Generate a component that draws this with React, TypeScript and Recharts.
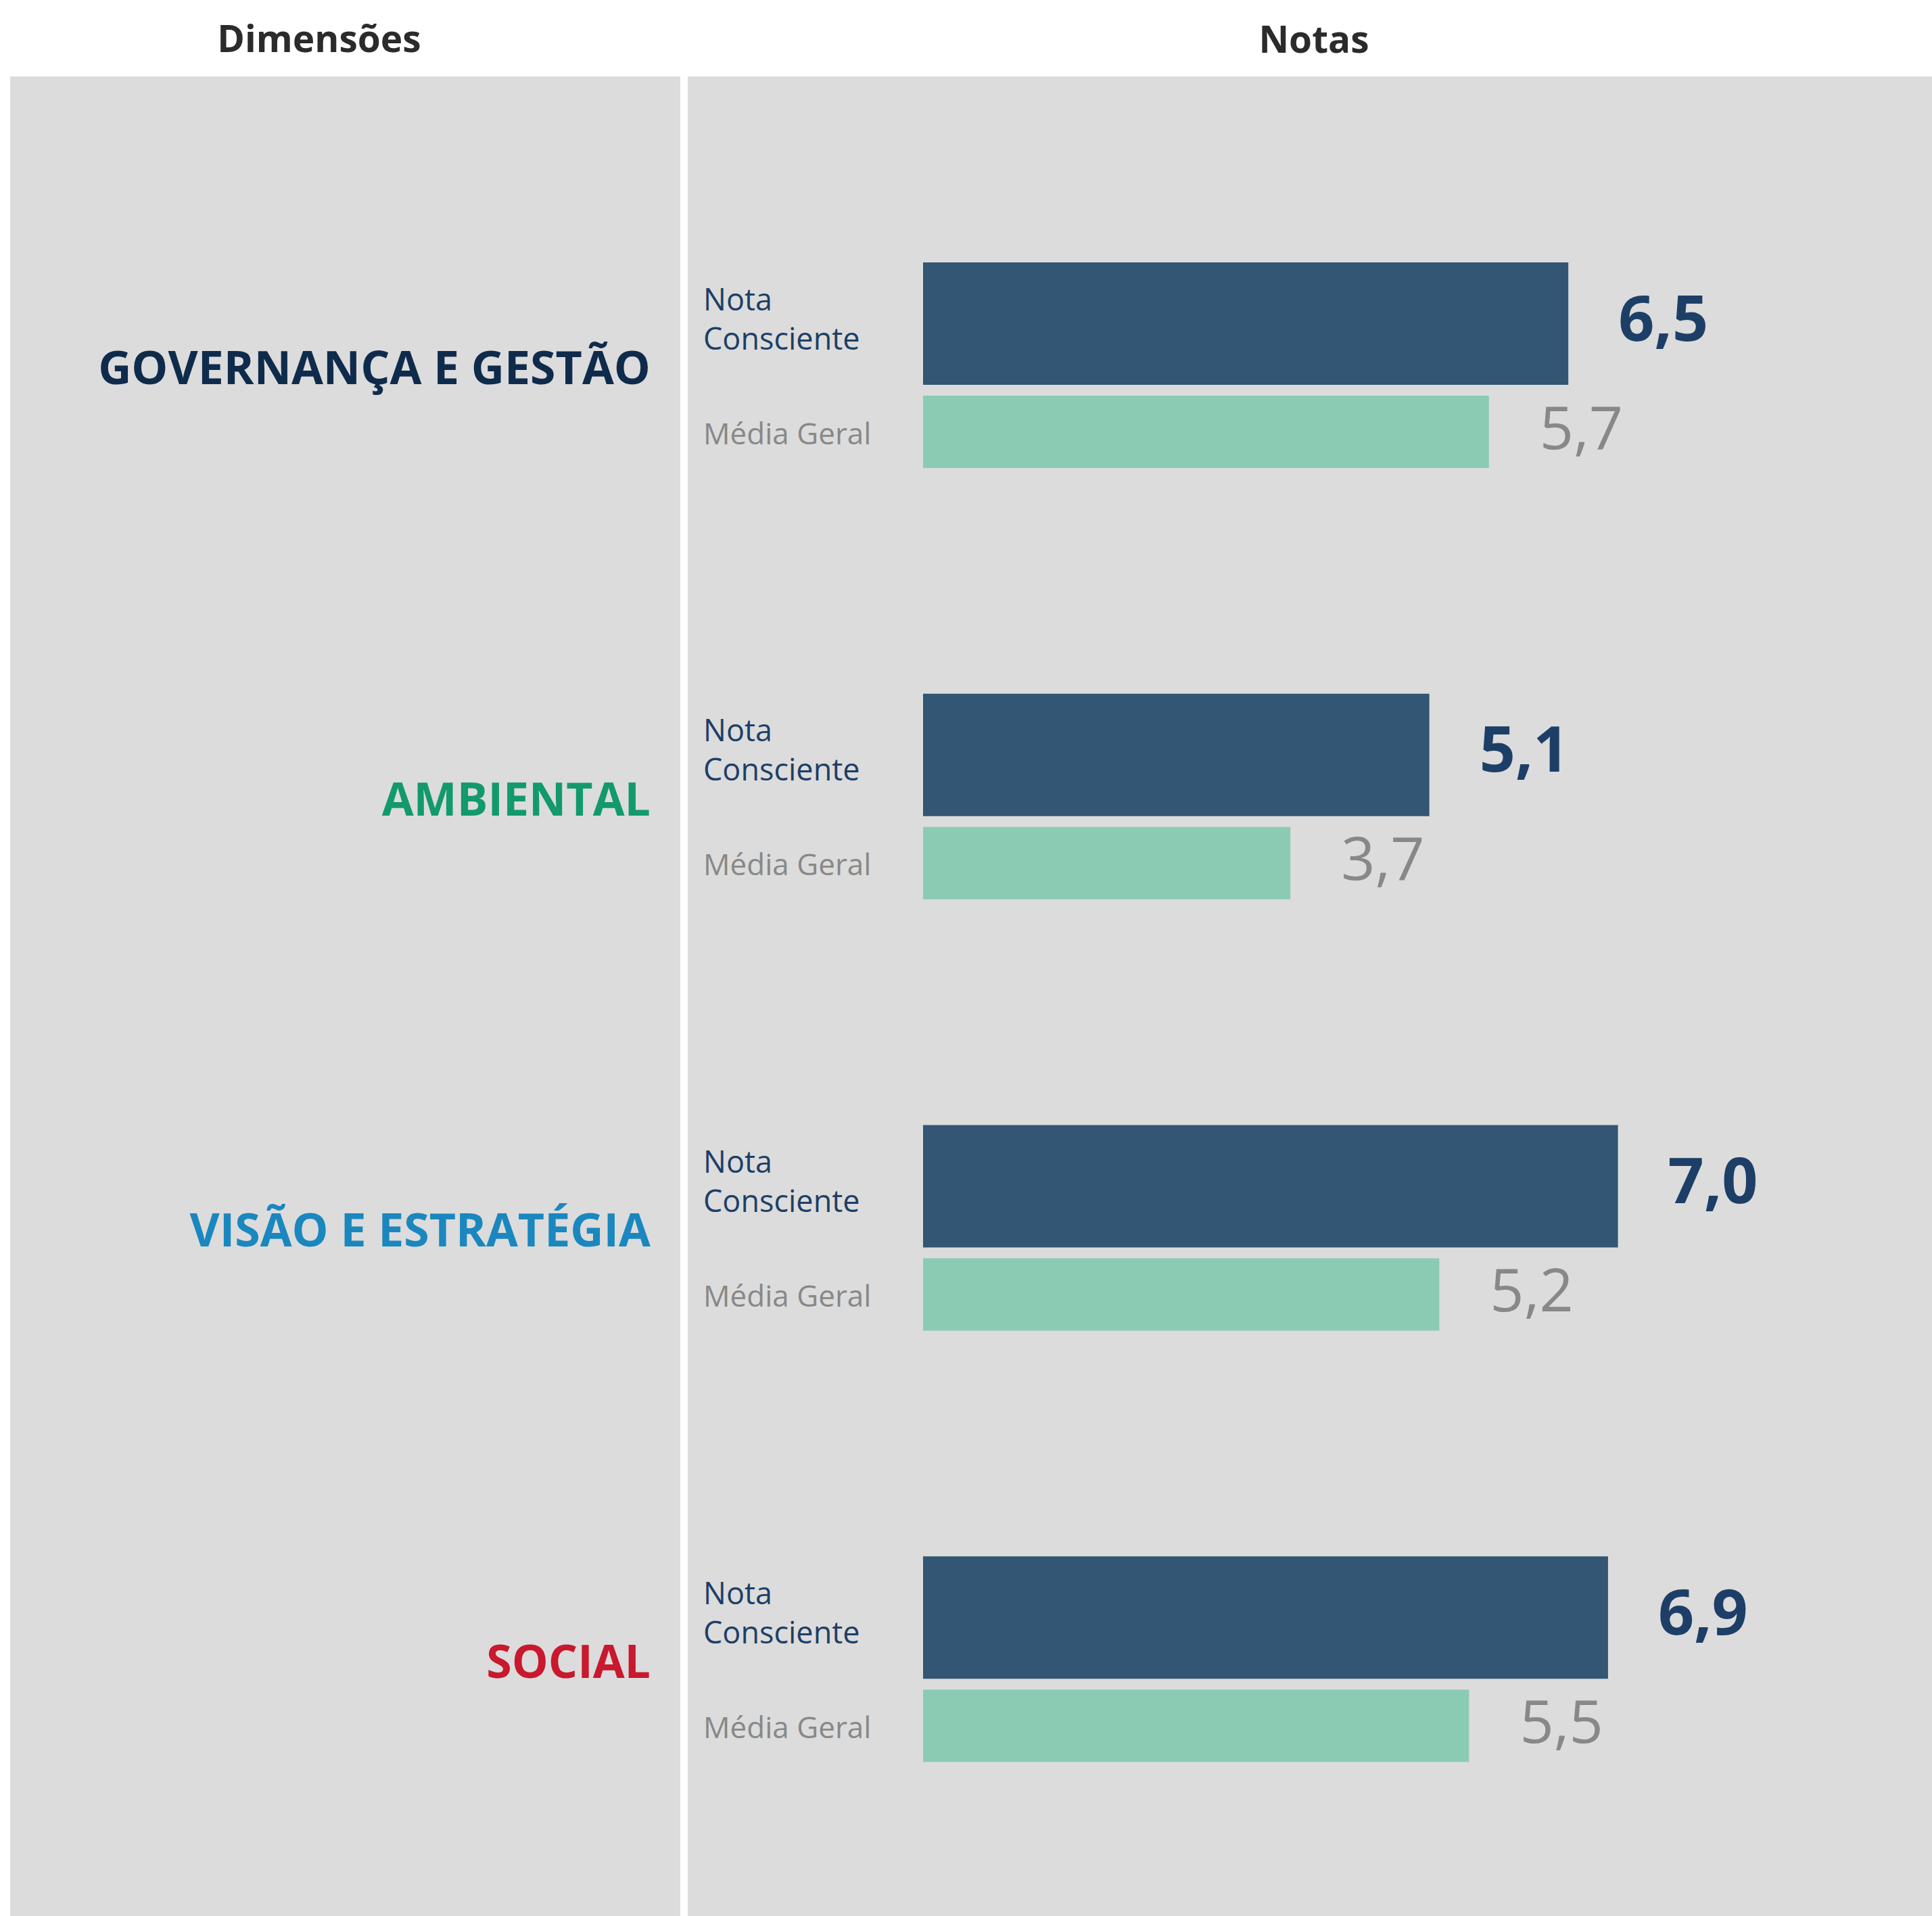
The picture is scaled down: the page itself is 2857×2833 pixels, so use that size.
import React from 'react'
import { BarChart, Bar, XAxis, YAxis, LabelList } from 'recharts'

const dimensions = ['GOVERNANÇA E GESTÃO', 'AMBIENTAL', 'VISÃO E ESTRATÉGIA', 'SOCIAL']
const notaConsciente = [6.5, 5.1, 7.0, 6.9]
const mediaGeral = [5.7, 3.7, 5.2, 5.5]
const headers = ['Dimensões', 'Notas']

const DIM_COLORS: Record<string, string> = {
  'GOVERNANÇA E GESTÃO': '#0f2b4c',
  AMBIENTAL: '#139a6c',
  'VISÃO E ESTRATÉGIA': '#1a87be',
  SOCIAL: '#c8192e',
}

const W = 2857
const H = 2833
const FONT = '"Open Sans", "Noto Sans", sans-serif'
const NAVY = '#325674'
const GREEN = '#8bcbb4'
const NAVY_TEXT = '#1d3f67'
const GRAY_TEXT = '#888888'

const fmt = (v: number) => v.toFixed(1).replace('.', ',')

const data = dimensions.map((d, i) => ({ dim: d, nota: notaConsciente[i], media: mediaGeral[i] }))

function DimTick(props: any) {
  const { y, payload } = props
  return (
    <text x={962} y={y + 28} textAnchor="end" fontFamily={FONT} fontWeight={700} fontSize={68}
      fill={DIM_COLORS[payload.value] || '#333'}>
      {payload.value}
    </text>
  )
}

const notaName = (p: any) => {
  const cy = p.y + p.height / 2
  return (
    <text x={p.x - 325} y={cy - 20} fontFamily={FONT} fontSize={45} fill={NAVY_TEXT}>
      <tspan x={p.x - 325}>Nota</tspan>
      <tspan x={p.x - 325} dy={58}>Consciente</tspan>
    </text>
  )
}

const mediaName = (p: any) => (
  <text x={p.x - 325} y={p.y + p.height / 2 + 18} fontFamily={FONT} fontSize={44} fill={GRAY_TEXT}>
    Média Geral
  </text>
)

const notaValue = (p: any) => (
  <text x={p.x + p.width + 74} y={p.y + p.height / 2 + 25} fontFamily={FONT} fontWeight={700}
    fontSize={93} fill={NAVY_TEXT}>
    {fmt(Number(p.value))}
  </text>
)

const mediaValue = (p: any) => (
  <text x={p.x + p.width + 75} y={p.y + p.height / 2 + 25} fontFamily={FONT} fontSize={88} fill={GRAY_TEXT}>
    {fmt(Number(p.value))}
  </text>
)

export default function App() {
  return (
    <div style={{ position: 'absolute', left: 0, top: 0, width: W, height: H, background: '#fff' }}>
      <svg width={W} height={H} style={{ position: 'absolute', left: 0, top: 0 }}>
        <rect x={15} y={113} width={991} height={H - 113} fill="#dcdcdc" />
        <rect x={1017} y={113} width={W - 1017} height={H - 113} fill="#dcdcdc" />
        <text x={472} y={77} textAnchor="middle" fontFamily={FONT} fontWeight={700} fontSize={55} fill="#2b2b2b">
          {headers[0]}
        </text>
        <text x={1943} y={78} textAnchor="middle" fontFamily={FONT} fontWeight={700} fontSize={55} fill="#2b2b2b">
          {headers[1]}
        </text>
      </svg>
      <div style={{ position: 'absolute', left: 0, top: 0 }}>
        <BarChart width={W} height={H} data={data} layout="vertical" barGap={16}
          margin={{ top: 221, right: 24, bottom: 61, left: 962 }}>
          <XAxis type="number" domain={[0, 10]} hide />
          <YAxis type="category" dataKey="dim" width={403} axisLine={false} tickLine={false}
            tickSize={0} tickMargin={0} tick={DimTick} interval={0} />
          <Bar dataKey="nota" fill={NAVY} barSize={181} isAnimationActive={false}>
            <LabelList dataKey="nota" content={notaName} />
            <LabelList dataKey="nota" content={notaValue} />
          </Bar>
          <Bar dataKey="media" fill={GREEN} barSize={107} isAnimationActive={false}>
            <LabelList dataKey="media" content={mediaName} />
            <LabelList dataKey="media" content={mediaValue} />
          </Bar>
        </BarChart>
      </div>
    </div>
  )
}
